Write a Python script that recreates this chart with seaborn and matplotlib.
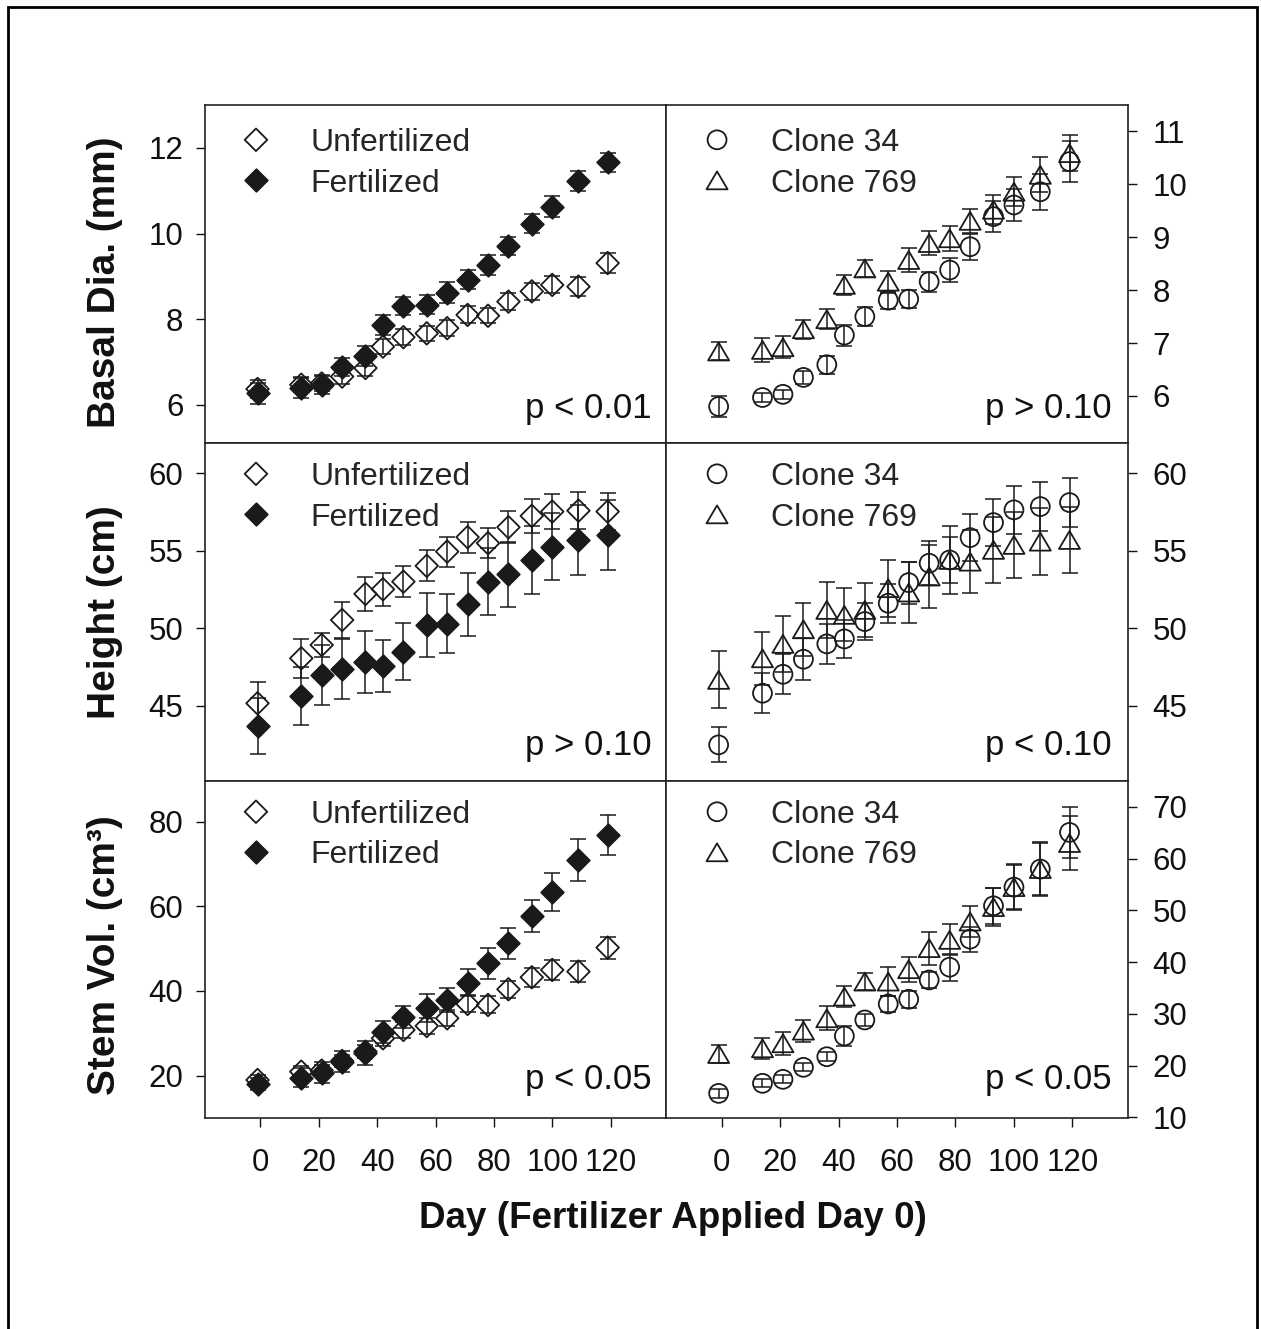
import numpy as np
import pandas as pd
import matplotlib
matplotlib.use("Agg")
import matplotlib.pyplot as plt
import seaborn as sns
from matplotlib.path import Path
from matplotlib.patches import Rectangle

# ---------------- data ----------------
days = [-1, 14, 21, 28, 36, 42, 49, 57, 64, 71, 78, 85, 93, 100, 109, 119]

dia_unfert = [6.37, 6.47, 6.50, 6.66, 6.86, 7.36, 7.58, 7.67, 7.79, 8.10, 8.08, 8.41, 8.65, 8.80, 8.76, 9.31]
dia_unfert_se = [0.20, 0.18, 0.18, 0.18, 0.18, 0.18, 0.18, 0.18, 0.18, 0.2, 0.18, 0.2, 0.2, 0.2, 0.22, 0.23]
dia_fert = [6.27, 6.39, 6.47, 6.89, 7.14, 7.87, 8.31, 8.34, 8.62, 8.92, 9.27, 9.71, 10.23, 10.63, 11.23, 11.66]
dia_fert_se = [0.25, 0.23, 0.22, 0.21, 0.23, 0.23, 0.21, 0.22, 0.24, 0.22, 0.24, 0.22, 0.22, 0.24, 0.24, 0.23]

c34_dia = [5.80, 5.97, 6.03, 6.35, 6.59, 7.15, 7.50, 7.81, 7.83, 8.16, 8.38, 8.82, 9.39, 9.61, 9.86, 10.43]
c34_dia_se = [0.20, 0.08, 0.08, 0.12, 0.17, 0.20, 0.18, 0.16, 0.17, 0.19, 0.22, 0.25, 0.29, 0.31, 0.34, 0.38]
c769_dia = [6.84, 6.87, 6.92, 7.26, 7.45, 8.10, 8.41, 8.16, 8.57, 8.89, 8.98, 9.31, 9.52, 9.86, 10.18, 10.59]
c769_dia_se = [0.17, 0.22, 0.21, 0.18, 0.19, 0.19, 0.16, 0.21, 0.23, 0.22, 0.24, 0.23, 0.27, 0.27, 0.33, 0.34]

ht_unfert = [45.17, 48.07, 48.93, 50.54, 52.22, 52.52, 53.01, 54.03, 54.95, 55.88, 55.49, 56.52, 57.25, 57.53, 57.59, 57.53]
ht_unfert_se = [1.4, 1.25, 0.8, 1.16, 1.1, 1.07, 1.0, 1.0, 0.97, 1.0, 0.97, 1.04, 1.1, 1.1, 1.2, 1.2]
ht_fert = [43.71, 45.64, 47.00, 47.37, 47.86, 47.58, 48.50, 50.22, 50.29, 51.56, 53.01, 53.49, 54.41, 55.27, 55.70, 56.02]
ht_fert_se = [1.8, 1.85, 1.93, 1.95, 2.0, 1.7, 1.85, 2.04, 1.9, 2.04, 2.15, 2.1, 2.2, 2.15, 2.28, 2.26]

c34_ht = [42.49, 45.82, 47.04, 48.01, 49.00, 49.32, 50.44, 51.62, 52.95, 54.20, 54.41, 55.85, 56.82, 57.64, 57.85, 58.11]
c34_ht_se = [1.13, 1.3, 1.3, 1.34, 1.3, 1.24, 1.2, 1.26, 1.36, 1.4, 1.5, 1.5, 1.5, 1.55, 1.6, 1.6]
c769_ht = [46.68, 48.07, 49.00, 49.94, 51.19, 50.87, 51.19, 52.59, 52.31, 53.34, 54.41, 54.30, 55.06, 55.38, 55.59, 55.70]
c769_ht_se = [1.83, 1.7, 1.8, 1.7, 1.8, 1.7, 1.75, 1.83, 1.95, 2.04, 2.2, 2.04, 2.15, 2.15, 2.15, 2.15]

sv_unfert = [18.98, 20.95, 21.20, 23.47, 25.67, 28.82, 30.80, 31.74, 33.55, 36.94, 36.70, 40.41, 43.24, 44.97, 44.58, 50.25]
sv_unfert_se = [1.2, 1.3, 1.3, 1.5, 1.6, 1.8, 1.8, 1.8, 1.9, 2.0, 2.0, 2.0, 2.3, 2.4, 2.4, 2.6]
sv_fert = [18.04, 19.53, 20.71, 23.31, 25.28, 30.40, 33.79, 35.91, 37.88, 41.97, 46.55, 51.27, 57.73, 63.47, 70.96, 76.87]
sv_fert_se = [1.5, 2.2, 2.4, 2.5, 2.8, 2.6, 2.6, 3.3, 2.8, 3.2, 3.7, 3.7, 3.7, 4.5, 4.9, 4.8]

c34_sv = [14.66, 16.60, 17.37, 19.69, 21.74, 25.74, 28.84, 31.93, 32.84, 36.57, 39.03, 44.45, 50.89, 54.50, 57.99, 65.07]
c34_sv_se = [0.8, 0.8, 0.8, 0.8, 0.9, 1.9, 1.2, 1.6, 1.6, 1.5, 2.6, 2.4, 3.5, 4.4, 5.2, 5.0]
c769_sv = [22.26, 23.36, 24.33, 26.77, 29.16, 33.35, 36.25, 36.25, 38.64, 42.71, 44.31, 47.85, 50.64, 54.50, 57.99, 63.02]
c769_sv_se = [1.7, 2.0, 2.2, 2.1, 2.3, 2.0, 1.7, 2.8, 2.4, 3.2, 3.0, 3.0, 3.6, 4.3, 5.0, 5.3]

y_labels = ["Basal Dia. (mm)", "Height (cm)", "Stem Vol. (cm³)"]
x_label = "Day (Fertilizer Applied Day 0)"
x_ticks = [0, 20, 40, 60, 80, 100, 120]
p_texts = [["p < 0.01", "p > 0.10"], ["p > 0.10", "p < 0.10"], ["p < 0.05", "p < 0.05"]]
trt_labels = ["Unfertilized", "Fertilized"]
clone_labels = ["Clone 34", "Clone 769"]

left_ticks = [[6, 8, 10, 12], [45, 50, 55, 60], [20, 40, 60, 80]]
right_ticks = [[6, 7, 8, 9, 10, 11], [45, 50, 55, 60], [10, 20, 30, 40, 50, 60, 70]]
left_lims = [(5.11, 13.0), (40.16, 61.95), (10.0, 89.6)]
right_lims = [(5.11, 11.5), (40.16, 61.95), (9.9, 75.0)]

# ---------------- style ----------------
sns.set_style("ticks")
plt.rcParams["font.family"] = ["Liberation Sans", "DejaVu Sans"]
plt.rcParams["axes.linewidth"] = 1.2
plt.rcParams["axes.edgecolor"] = "#222222"

W, H = 1261, 1329
fig = plt.figure(figsize=(W / 100, H / 100), dpi=100)


def fx(px):
    return px / W


def fy(py):
    return 1 - py / H


cols = [(205, 666), (666, 1128)]
rows = [(105, 443), (443, 781), (781, 1118)]

tri = Path([(0, 0.85), (-1, -0.85), (1, -0.85), (0, 0.85)],
           [Path.MOVETO, Path.LINETO, Path.LINETO, Path.CLOSEPOLY])

INK = "#1a1a1a"

left_series = [
    [(dia_unfert, dia_unfert_se), (dia_fert, dia_fert_se)],
    [(ht_unfert, ht_unfert_se), (ht_fert, ht_fert_se)],
    [(sv_unfert, sv_unfert_se), (sv_fert, sv_fert_se)],
]
right_series = [
    [(c34_dia, c34_dia_se), (c769_dia, c769_dia_se)],
    [(c34_ht, c34_ht_se), (c769_ht, c769_ht_se)],
    [(c34_sv, c34_sv_se), (c769_sv, c769_sv_se)],
]

for r, (top, bot) in enumerate(rows):
    for c, (lft, rgt) in enumerate(cols):
        ax = fig.add_axes([fx(lft), fy(bot), fx(rgt) - fx(lft), fy(top) - fy(bot)])
        if c == 0:
            series = left_series[r]
            labels = trt_labels
            styles = [dict(marker="D", s=132, facecolor="none"),
                      dict(marker="D", s=132, facecolor=INK)]
        else:
            series = right_series[r]
            labels = clone_labels
            styles = [dict(marker="o", s=185, facecolor="none"),
                      dict(marker=tri, s=230, facecolor="none")]
        for (vals, se), lab, st in zip(series, labels, styles):
            df = pd.DataFrame({"day": days, "val": vals, "se": se})
            ax.errorbar(df["day"], df["val"], yerr=df["se"], fmt="none",
                        ecolor=INK, elinewidth=1.1, capsize=6, capthick=1.1, zorder=3)
            sns.scatterplot(data=df, x="day", y="val", ax=ax, marker=st["marker"],
                            s=st["s"], facecolor=st["facecolor"], edgecolor=INK,
                            linewidth=1.3, label=lab, zorder=4)
        ax.set_xlim(-19, 139)
        ax.set_xticks(x_ticks)
        ax.set_xlabel("")
        ax.set_ylabel("")
        if c == 0:
            ax.set_ylim(*left_lims[r])
            ax.set_yticks(left_ticks[r])
            ax.tick_params(axis="y", left=True, right=False, labelleft=True,
                           labelright=False, direction="out", length=6.5,
                           width=1, pad=9, labelsize=22.5, colors="#111111")
        else:
            ax.set_ylim(*right_lims[r])
            ax.set_yticks(right_ticks[r])
            ax.yaxis.tick_right()
            ax.tick_params(axis="y", left=False, right=True, labelleft=False,
                           labelright=True, direction="out", length=6.5,
                           width=1, pad=11, labelsize=22.5, colors="#111111")
        if r < 2:
            ax.tick_params(axis="x", bottom=False, top=False, labelbottom=False)
        else:
            ax.tick_params(axis="x", bottom=True, top=False, labelbottom=True,
                           direction="out", length=6.5, width=1, pad=15,
                           labelsize=22.5, colors="#111111")
        ax.grid(False)
        for sp in ax.spines.values():
            sp.set_visible(True)
            sp.set_color("#222222")
            sp.set_linewidth(1.2)

        off = 23 if r == 0 else 19
        ax.legend(loc="upper left", bbox_to_anchor=(35 / 461, 1 - off / 338),
                  bbox_transform=ax.transAxes, frameon=False, fontsize=23,
                  borderpad=0, borderaxespad=0, handlelength=1.0,
                  handletextpad=1.2, labelspacing=0.33, scatterpoints=1,
                  scatteryoffsets=[0.5])

        py = [0.1006, 0.1036, 0.113][r]
        pxr = 0.969 if c == 0 else 0.965
        ax.text(pxr, py, p_texts[r][c], transform=ax.transAxes, ha="right",
                va="center", fontsize=25, color="#111111")

# y labels
for r, (top, bot) in enumerate(rows):
    yc = [282, 612, 955][r]
    fig.text(fx(105), fy(yc), y_labels[r], rotation=90, ha="center", va="center",
             fontsize=28, fontweight="bold", color="#111111")

fig.text(fx(673), fy(1218), x_label, ha="center", va="center", fontsize=26.5,
         fontweight="bold", color="#111111")

# outer frame
fig.add_artist(Rectangle((fx(8), fy(1340)), fx(1257) - fx(8), fy(7) - fy(1340),
                         transform=fig.transFigure, fill=False, lw=2.0,
                         ec="black", zorder=10))

fig.savefig("out.png", dpi=100)
